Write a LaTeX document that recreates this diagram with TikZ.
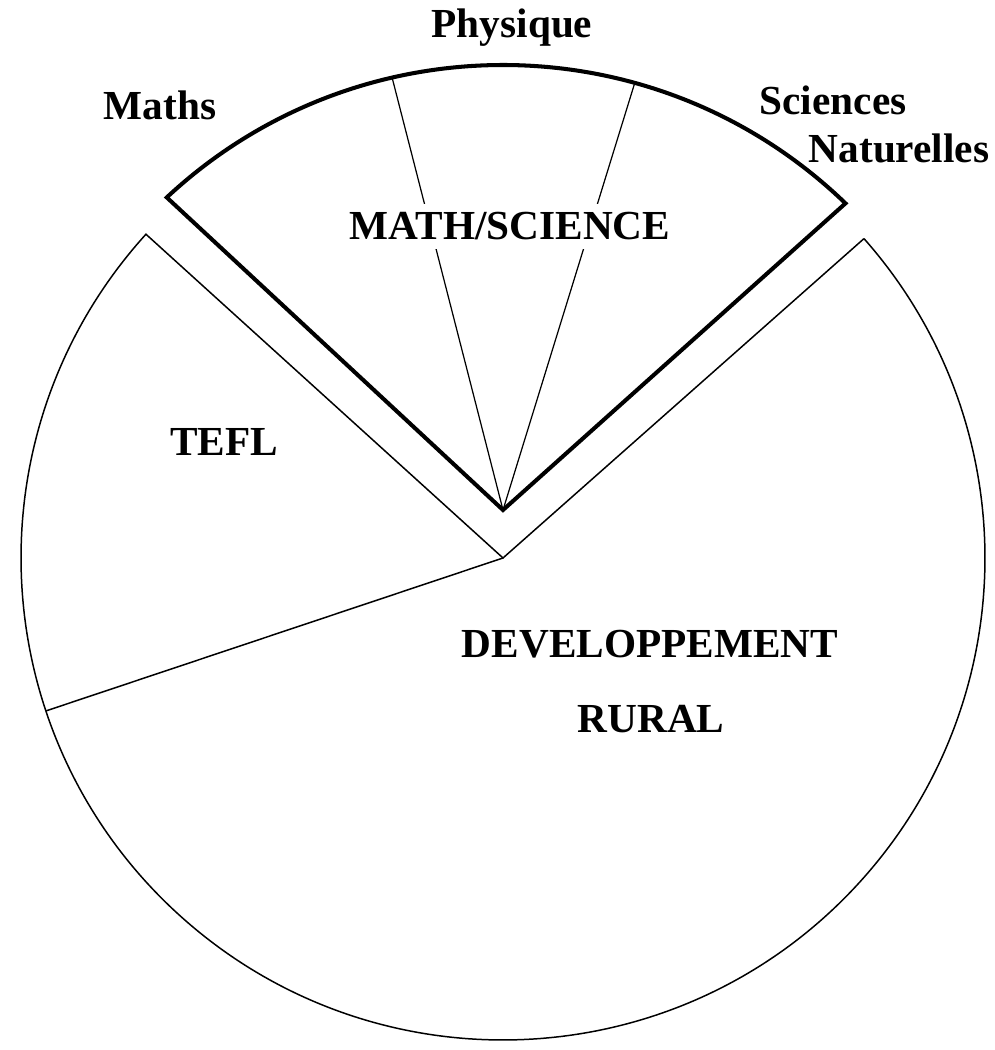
\documentclass[tikz,border=0pt]{standalone}
\usepackage{fontspec}
\setmainfont{Liberation Serif}
\usetikzlibrary{calc}
\begin{document}
\begin{tikzpicture}[x=0.02cm,y=0.02cm,
  thinline/.style={line width=0.85pt, line join=miter},
  thickline/.style={line width=2.3pt, line join=miter},
  divline/.style={line width=0.7pt},
  lbl/.style={font=\bfseries\fontsize{23.5}{28}\selectfont, anchor=base, inner sep=0pt}]
\useasboundingbox (0,0) rectangle (994,1050);
\coordinate (C) at (503,492);
\coordinate (A) at (503,540);
% main pie (TEFL + Developpement rural)
\draw[thinline] ($(C)+(41.5:482)$) -- (C) -- ($(C)+(137.8:482)$)
  arc[start angle=137.8, end angle=401.5, radius=482];
\draw[thinline] (C) -- ($(C)+(198.5:482)$);
% exploded math/science wedge
\draw[thickline] (A) -- ($(C)+(133:493)$)
  arc[start angle=133, end angle=46, radius=493] -- cycle;
\draw[divline] (A) -- ($(C)+(103:493)$);
\draw[divline] (A) -- ($(C)+(74.5:493)$);
% labels
\node[lbl] (physique) at (512,1012) {Physique};
\node[lbl] (maths) at (160,930) {Maths};
\node[lbl] (sciences) at (833,935) {Sciences};
\node[lbl] (naturelles) at (899,887) {Naturelles};
\node[lbl, fill=white, inner sep=5pt] (mathsci) at (510,810) {MATH/SCIENCE};
\node[lbl] (tefl) at (224,594) {TEFL};
\node[lbl] (dev) at (650,392) {DEVELOPPEMENT};
\node[lbl] (rural) at (651,317) {RURAL};
\end{tikzpicture}
\end{document}
